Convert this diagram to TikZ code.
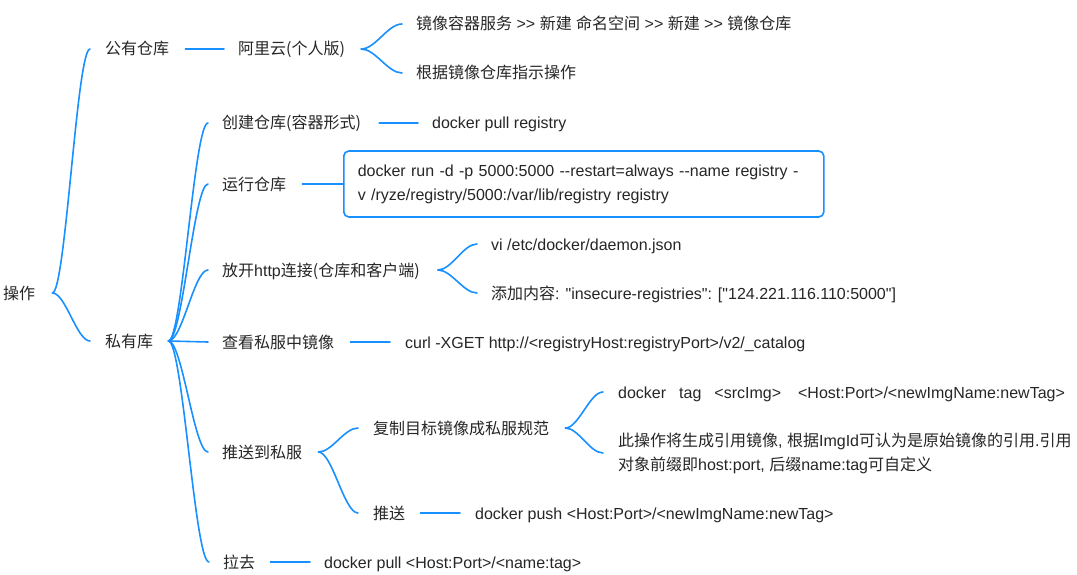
\documentclass[tikz,border=0pt]{standalone}
\usepackage{fontspec}
\newfontfamily\lat{Liberation Sans}
\newfontfamily\cjk{Noto Sans CJK SC}
\usetikzlibrary{calc}
\definecolor{lineblue}{RGB}{24,144,255}
\definecolor{txt}{RGB}{38,38,38}
\newcommand{\zh}[1]{{\cjk #1}}
\begin{document}
\begin{tikzpicture}[x=1pt,y=-1pt,
  lbl/.style={anchor=west, inner sep=0pt, text=txt, font=\lat\fontsize{16}{24}\selectfont, text height=12pt, text depth=0pt},
  multi/.style={anchor=west, inner sep=0pt, text=txt, font=\lat\fontsize{16}{24}\selectfont, align=left},
  conn/.style={draw=lineblue, line width=1.6pt, line cap=round},
  brace/.style={to path={let \p1=(\tikztostart), \p2=(\tikztotarget) in
     .. controls ({\x1+0.35*(\x2-\x1)},\y1) and ({\x2-0.35*(\x2-\x1)},\y2) .. (\tikztotarget)}}
]
\fill[white] (0,0) rectangle (1077,575);
\useasboundingbox (0,0) rectangle (1077,575);

% nodes
\node[lbl] (root) at (3,293) {\zh{操作}};
\node[lbl] (pub) at (105,49) {\zh{公有仓库}};
\node[lbl] (ali) at (238,49) {\zh{阿里云(个人版)}};
\node[lbl] (ali1) at (416,24) {\zh{镜像容器服务} >> \zh{新建} \zh{命名空间} >> \zh{新建} >> \zh{镜像仓库}};
\node[lbl] (ali2) at (416,73) {\zh{根据镜像仓库指示操作}};
\node[lbl] (priv) at (105,341) {\zh{私有库}};
\node[lbl] (create) at (222,123) {\zh{创建仓库(容器形式)}};
\node[lbl] (createc) at (432,123) {docker pull registry};
\node[lbl] (run) at (222,184) {\zh{运行仓库}};
\node[multi, draw=lineblue, line width=1.6pt, rounded corners=5pt, minimum width=480pt, minimum height=66pt, inner xsep=14pt, inner ysep=0pt, text width=452pt] (runbox) at (343,184)
  {docker run -d -p 5000:5000 -{}-restart=always -{}-name registry -\\v /ryze/registry/5000:/var/lib/registry registry};
\node[lbl] (http) at (222,270) {\zh{放开}http\zh{连接(仓库和客户端)}};
\node[lbl] (http1) at (491,244) {vi /etc/docker/daemon.json};
\node[lbl] (http2) at (491,293) {\zh{添加内容}: "insecure-registries": ["124.221.116.110:5000"]};
\node[lbl] (view) at (222,342) {\zh{查看私服中镜像}};
\node[lbl] (viewc) at (405,342) {curl -XGET http://<registryHost:registryPort>/v2/\_catalog};
\node[lbl] (push) at (222,452) {\zh{推送到私服}};
\node[lbl] (copy) at (373,428) {\zh{复制目标镜像成私服规范}};
\node[lbl] (tag1) at (618,392) {docker\hspace*{13pt}tag\hspace*{13pt}<srcImg>\hspace*{17pt}<Host:Port>/<newImgName:newTag>};
\node[multi] (tag2) at (618,453) {\zh{此操作将生成引用镜像}, \zh{根据}ImgId\zh{可认为是原始镜像的引用}.\zh{引用}\\\zh{对象前缀即}host:port, \zh{后缀}name:tag\zh{可自定义}};
\node[lbl] (pushc) at (373,513) {\zh{推送}};
\node[lbl] (pushcmd) at (475,513) {docker push <Host:Port>/<newImgName:newTag>};
\node[lbl] (pull) at (223,562) {\zh{拉去}};
\node[lbl] (pullcmd) at (324,562) {docker pull <Host:Port>/<name:tag>};

% connectors
\coordinate (rootT) at ($(root.east)+(17,0)$);
\draw[conn] (rootT) to[brace] ($(pub.west)+(-15,0)$);
\draw[conn] (rootT) to[brace] ($(priv.west)+(-15,0)$);

\draw[conn] ($(pub.east)+(16,0)$) -- ($(ali.west)+(-14,0)$);
\coordinate (aliT) at ($(ali.east)+(16,0)$);
\draw[conn] (aliT) to[brace] ($(ali1.west)+(-14,0)$);
\draw[conn] (aliT) to[brace] ($(ali2.west)+(-14,0)$);

\coordinate (privT) at ($(priv.east)+(15,0)$);
\draw[conn] (privT) to[brace] ($(create.west)+(-14,0)$);
\draw[conn] (privT) to[brace] ($(run.west)+(-14,0)$);
\draw[conn] (privT) to[brace] ($(http.west)+(-14,0)$);
\draw[conn] (privT) -- ($(view.west)+(-14,0)$);
\draw[conn] (privT) to[brace] ($(push.west)+(-14,0)$);
\draw[conn] (privT) to[brace] ($(pull.west)+(-14,0)$);

\draw[conn] ($(create.east)+(18,0)$) -- ($(createc.west)+(-14,0)$);
\draw[conn] ($(run.east)+(16,0)$) -- (runbox.west);

\coordinate (httpT) at ($(http.east)+(18,0)$);
\draw[conn] (httpT) to[brace] ($(http1.west)+(-14,0)$);
\draw[conn] (httpT) to[brace] ($(http2.west)+(-14,0)$);

\draw[conn] ($(view.east)+(16,0)$) -- ($(viewc.west)+(-15,0)$);

\coordinate (pushT) at ($(push.east)+(16,0)$);
\draw[conn] (pushT) to[brace] ($(copy.west)+(-15,0)$);
\draw[conn] (pushT) to[brace] ($(pushc.west)+(-15,0)$);

\coordinate (copyT) at ($(copy.east)+(16,0)$);
\draw[conn] (copyT) to[brace] ($(tag1.west)+(-15,0)$);
\draw[conn] (copyT) to[brace] ($(tag2.west)+(-15,0)$);

\draw[conn] ($(pushc.east)+(15,0)$) -- ($(pushcmd.west)+(-15,0)$);
\draw[conn] ($(pull.east)+(15,0)$) -- ($(pullcmd.west)+(-14,0)$);
\end{tikzpicture}
\end{document}
